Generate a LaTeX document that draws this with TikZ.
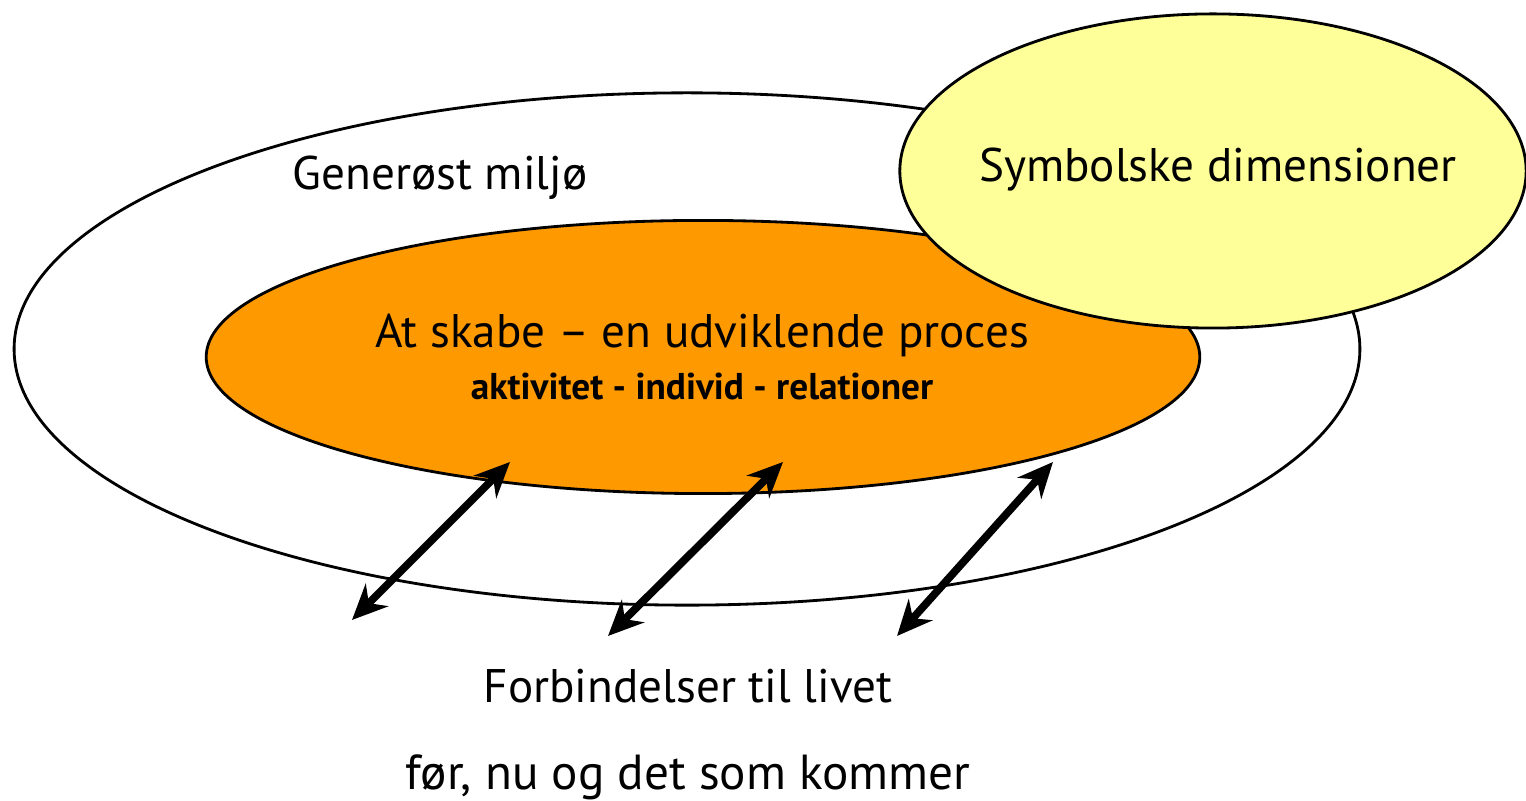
\documentclass[tikz,border=0pt]{standalone}
\usepackage{fontspec}
\setmainfont{PT Sans}
\usetikzlibrary{positioning}
\usetikzlibrary{arrows.meta}
\usetikzlibrary{shapes.geometric}

\definecolor{procorange}{HTML}{FF9900}
\definecolor{symbyellow}{HTML}{FFFF99}

\begin{document}
\begin{tikzpicture}[
    x=0.01cm, y=-0.01cm,
    ring/.style={ellipse, draw=black, line width=0.8pt, inner sep=0pt},
    txt/.style={font=\fontsize{13.4}{15}\selectfont, inner sep=0pt},
    link/.style={{Stealth[length=10pt,width=9pt]}-{Stealth[length=10pt,width=9pt]}, line width=2.2pt},
]
    \useasboundingbox (0,0) rectangle (1526,801);

    \node[ring, fill=white, minimum width=13.45cm, minimum height=5.12cm] (E1) at (687,349) {};
    \node[ring, fill=procorange, minimum width=9.93cm, minimum height=2.73cm] (E2) at (703,357) {};
    \node[ring, fill=symbyellow, minimum width=6.26cm, minimum height=3.14cm] (E3) at (1213,171) {};

    \node[txt] (T1) at (440,178) {Generøst miljø};
    \node[txt] (T4) at (1218,170) {Symbolske dimensioner};

    \node[txt] (T2) at (702,335) {At skabe – en udviklende proces};
    \node[txt, font=\fontsize{10.6}{12}\selectfont\bfseries] (T3) [below=0.15cm of T2] {aktivitet - individ - relationer};

    \node[txt] (T5) at (688,686) {Forbindelser til livet};
    \node[txt, font=\fontsize{14}{16}\selectfont] (T6) [below=0.5cm of T5] {før, nu og det som kommer};

    \coordinate (A1) at (510,462);
    \coordinate (A2) at (783,462);
    \coordinate (A3) at (1053,462);
    \coordinate (C1) at (352,620);
    \coordinate (C2) at (608,636);
    \coordinate (C3) at (897,636);

    \draw[link] (C1) -- (A1);
    \draw[link] (C2) -- (A2);
    \draw[link] (C3) -- (A3);
\end{tikzpicture}
\end{document}
